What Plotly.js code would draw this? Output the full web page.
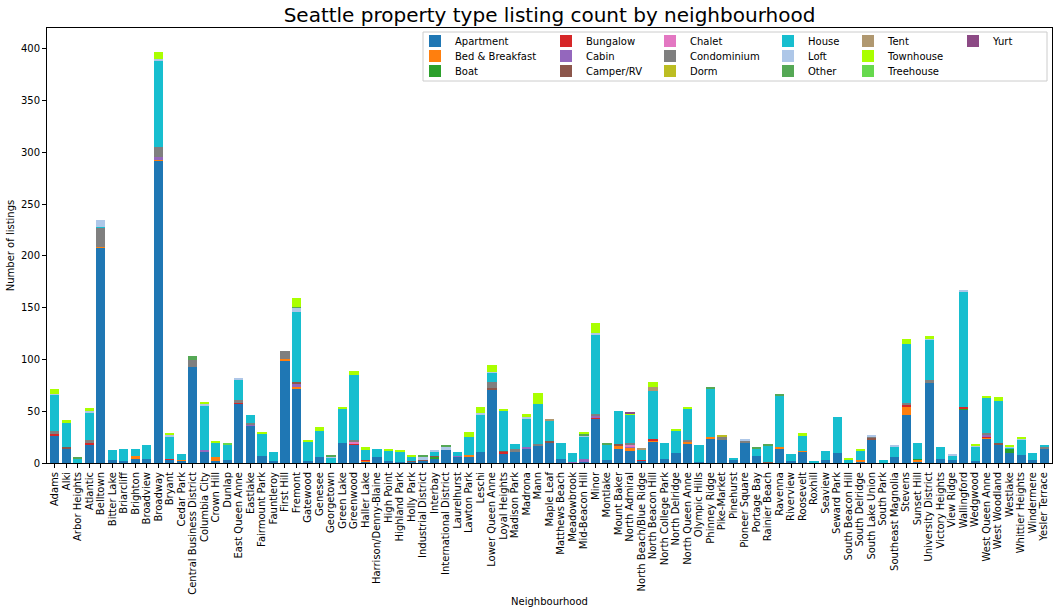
<!DOCTYPE html>
<html><head><meta charset="utf-8">
<script src="https://cdn.plot.ly/plotly-3.0.1.min.js"></script>
<style>html,body{margin:0;padding:0;background:#fff}#chart{width:1062px;height:614px}</style>
</head><body><div id="chart"></div>
<script>
const neighbourhoods = ["Adams","Alki","Arbor Heights","Atlantic","Belltown","Bitter Lake","Briarcliff","Brighton","Broadview","Broadway",
"Bryant","Cedar Park","Central Business District","Columbia City","Crown Hill","Dunlap","East Queen Anne","Eastlake","Fairmount Park","Fauntleroy",
"First Hill","Fremont","Gatewood","Genesee","Georgetown","Green Lake","Greenwood","Haller Lake","Harrison/Denny-Blaine","High Point",
"Highland Park","Holly Park","Industrial District","Interbay","International District","Laurelhurst","Lawton Park","Leschi","Lower Queen Anne","Loyal Heights",
"Madison Park","Madrona","Mann","Maple Leaf","Matthews Beach","Meadowbrook","Mid-Beacon Hill","Minor","Montlake","Mount Baker",
"North Admiral","North Beach/Blue Ridge","North Beacon Hill","North College Park","North Delridge","North Queen Anne","Olympic Hills","Phinney Ridge","Pike-Market","Pinehurst",
"Pioneer Square","Portage Bay","Rainier Beach","Ravenna","Riverview","Roosevelt","Roxhill","Seaview","Seward Park","South Beacon Hill",
"South Delridge","South Lake Union","South Park","Southeast Magnolia","Stevens","Sunset Hill","University District","Victory Heights","View Ridge","Wallingford",
"Wedgwood","West Queen Anne","West Woodland","Westlake","Whittier Heights","Windermere","Yesler Terrace"];

const propertyTypes = ["Apartment","Bed & Breakfast","Boat","Bungalow","Cabin","Camper/RV","Chalet","Condominium","Dorm","House","Loft","Other","Tent","Townhouse","Treehouse","Yurt"];

const apartment = [27,14,0,18,208,3,2,4,4,292, 3,2,93,11,2,3,57,36,7,2, 99,72,2,6,0,19,18,1,6,2, 1,1,2,4,13,6,6,11,71,9,
 11,14,16,20,4,0,1,43,3,14, 12,2,21,4,10,19,1,24,22,3, 19,7,0,14,2,11,0,3,10,0, 1,23,0,6,46,1,77,4,3,52, 2,24,18,10,8,3,14];
const bedAndBreakfast = [0,0,0,0,1,0,0,3,0,1, 0,1,0,0,4,0,0,0,0,0, 1,1,0,0,0,0,0,1,0,0, 0,0,0,0,0,0,2,0,0,0,
 0,0,0,0,0,0,0,0,0,3, 3,0,1,0,0,1,0,1,0,0, 0,0,0,1,0,1,0,0,0,0, 2,0,0,0,9,2,0,0,0,0, 0,1,0,0,0,0,0];
const boat = [0,0,0,0,0,0,0,0,0,0, 0,0,0,0,0,0,0,0,0,0, 0,0,0,0,0,0,0,0,0,0, 0,0,0,2,0,0,0,0,0,0,
 0,0,0,0,0,0,0,0,0,0, 0,0,0,0,0,0,0,0,0,0, 0,0,0,0,0,0,0,0,0,0, 0,0,0,0,0,1,0,0,0,1, 0,0,0,4,0,0,0];
const bungalow = [1,0,0,1,0,0,0,0,0,0, 1,0,0,0,0,0,1,0,0,0, 0,0,0,0,0,0,1,1,0,0, 0,0,0,0,0,0,0,0,0,2,
 0,0,0,0,0,0,0,1,0,0, 0,1,1,0,0,0,0,0,0,0, 0,0,0,0,0,0,0,0,0,0, 0,0,0,0,1,0,0,0,0,1, 0,1,0,0,0,0,0];
const cabin = [0,0,0,0,0,0,0,0,0,2, 0,0,0,2,0,0,0,1,0,0, 0,3,0,0,0,0,0,0,0,0, 0,0,0,0,0,1,0,0,0,0,
 0,1,0,0,0,1,3,1,0,0, 1,0,0,0,0,0,0,0,0,0, 0,0,0,0,0,0,0,0,0,0, 0,0,0,0,0,0,0,0,0,0, 0,1,0,0,0,0,0];
const camperRV = [0,1,0,0,0,0,0,0,0,0, 0,0,0,0,0,0,0,0,0,0, 0,2,0,0,0,0,0,0,0,0, 0,1,1,1,0,0,0,0,1,1,
 0,0,0,1,0,0,0,0,0,1, 0,0,0,0,0,0,0,0,0,0, 0,0,1,0,0,0,0,0,0,0, 0,1,0,0,0,0,0,0,0,0, 0,0,1,0,0,0,0];
const chalet = [0,0,0,0,0,0,0,0,0,0, 0,0,0,0,0,0,0,0,0,0, 0,0,0,0,0,0,1,0,0,0, 0,0,0,0,0,0,0,0,0,0,
 0,0,0,0,0,0,0,0,0,0, 1,0,0,0,0,0,0,0,0,0, 0,0,0,0,0,0,0,0,0,0, 0,0,0,0,0,0,0,0,0,0, 0,0,0,0,0,0,0];
const condominium = [3,0,0,3,18,0,0,0,0,10, 0,0,6,0,0,0,3,2,0,0, 8,0,0,0,0,0,2,0,0,0, 0,0,0,0,0,0,0,0,6,0,
 3,0,2,0,0,0,0,2,0,0, 2,0,0,0,0,2,0,0,3,0, 2,0,0,0,0,0,0,0,0,0, 0,2,0,0,2,0,3,0,0,0, 0,2,0,0,0,0,2];
const dorm = [0,0,0,0,0,0,0,0,0,0, 0,0,0,0,0,0,0,0,0,0, 0,0,0,0,0,0,0,0,0,0, 0,0,0,0,0,0,0,0,0,0,
 0,0,0,0,0,0,0,0,0,0, 0,0,0,0,0,0,0,0,2,0, 0,0,0,0,0,0,0,0,0,0, 0,0,0,0,0,0,0,0,0,0, 0,0,0,0,0,0,0];
const house = [35,24,4,26,1,10,12,7,13,83, 22,6,0,42,14,15,20,7,21,9, 0,68,19,25,5,34,63,10,8,10, 10,4,0,4,0,4,17,36,9,38,
 4,28,39,20,15,9,22,77,15,32, 28,10,47,15,21,30,16,47,0,1, 0,7,16,50,7,14,2,9,34,3, 9,0,3,10,57,15,39,11,4,111, 14,34,41,1,15,7,1];
const loft = [1,0,0,2,7,0,0,0,0,2, 1,0,0,2,0,0,1,0,0,0, 0,4,0,0,1,0,0,0,0,0, 0,0,3,1,2,0,0,1,1,0,
 0,1,0,0,0,0,1,2,0,0, 0,0,0,0,0,0,0,0,0,0, 2,0,0,0,0,0,0,0,0,0, 0,1,0,1,0,0,1,0,1,2, 1,0,0,1,1,0,0];
const other = [0,0,2,0,0,0,0,0,0,0, 0,0,4,0,0,0,0,0,0,0, 0,1,0,0,2,0,0,0,0,0, 0,0,1,0,2,0,0,0,0,0,
 0,0,0,0,0,0,1,0,1,0, 0,0,0,0,0,0,0,1,0,0, 0,1,1,2,0,0,0,0,0,0, 0,0,0,0,0,0,0,0,0,0, 0,0,0,0,0,0,0];
const tent = [0,0,0,0,0,0,0,0,0,0, 0,0,0,0,0,0,0,0,0,0, 0,0,0,0,0,0,0,0,0,0, 0,0,0,0,0,0,0,0,0,0,
 0,0,0,1,0,0,0,0,0,0, 0,1,3,0,0,0,0,0,0,0, 0,0,0,0,0,0,0,0,0,0, 0,0,0,0,0,0,0,0,0,0, 0,0,0,0,0,0,0];
const townhouse = [4,3,0,3,0,0,0,0,0,7, 2,0,0,1,1,0,0,0,1,0, 0,8,1,4,0,1,4,2,0,2, 1,1,0,0,0,0,5,6,7,2,
 0,3,11,0,0,0,1,9,0,0, 1,0,5,0,1,2,0,0,0,0, 0,0,0,0,0,3,0,0,0,1, 1,0,0,0,5,0,3,0,0,0, 1,2,4,1,1,0,0];
const treehouse = [0,0,0,0,0,0,0,0,0,0, 0,0,0,0,0,1,0,0,0,0, 0,0,0,0,0,0,0,0,0,0, 0,0,0,0,0,0,0,0,0,0,
 0,0,0,0,0,0,0,0,0,0, 0,0,0,0,0,0,0,0,0,0, 0,0,0,0,0,0,0,0,0,0, 0,0,0,0,0,0,0,0,0,0, 0,0,0,0,0,0,0];
const yurt = [0,0,0,0,0,0,0,0,0,0, 0,0,0,0,0,0,0,0,0,0, 0,0,0,0,0,0,0,0,0,0, 0,0,0,0,0,0,0,0,0,0,
 0,0,0,0,0,0,0,0,0,0, 1,0,0,0,0,0,0,0,0,0, 0,0,0,0,0,0,0,0,0,0, 0,0,0,0,0,0,0,0,0,0, 0,0,0,0,0,0,0];

const seriesValues = [apartment,bedAndBreakfast,boat,bungalow,cabin,camperRV,chalet,condominium,dorm,house,loft,other,tent,townhouse,treehouse,yurt];
const typeColors = ["#1f77b4","#ff7f0e","#2ca02c","#d62728","#9467bd","#8c564b","#e377c2","#7f7f7f","#bcbd22","#17becf","#aec7e8","#55a855","#b09870","#aaff00","#66d94d","#8c4a85"];

// layout geometry (pixels)
const W = 1062, H = 614, L = 47, R = 1052, T = 28, B = 463;
const pw = R - L, ph = B - T;
const colTextX = [455, 586, 690, 808, 888, 993];
const rowCenterY = [41, 56, 71];

const traces = propertyTypes.map((name, k) => ({
  type: 'bar', name: name, x: neighbourhoods, y: seriesValues[k],
  marker: {color: typeColors[k], line: {width: 0}},
  legend: 'legend' + (k + 2),
  showlegend: true,
  hoverinfo: 'x+y+name'
}));

const layout = {
  width: W, height: H,
  margin: {l: L, r: W - R, t: T, b: H - B, pad: 0},
  paper_bgcolor: '#fff', plot_bgcolor: '#fff',
  font: {family: 'DejaVu Sans', size: 10, color: '#000'},
  barmode: 'stack', bargap: 0.2,
  showlegend: true,
  title: {text: 'Seattle property type listing count by neighbourhood', font: {size: 20, color: '#000'},
          x: 0.5, xref: 'paper', y: 1 - 15 / H, yref: 'container', yanchor: 'middle'},
  xaxis: {type: 'category', range: [-0.68, 86.68], tickmode: 'linear', tick0: 0, dtick: 1,
          tickangle: -90, ticks: 'outside', ticklen: 4, tickcolor: '#000',
          showline: true, mirror: true, linecolor: '#000', linewidth: 1, showgrid: false, zeroline: false,
          tickfont: {size: 10, color: '#000'}, automargin: false,
          title: {text: 'Neighbourhood', font: {size: 10, color: '#000'}, standoff: 4}},
  yaxis: {range: [0, 420], tickvals: [0,50,100,150,200,250,300,350,400], ticks: 'outside', ticklen: 4, tickcolor: '#000',
          showline: true, mirror: true, linecolor: '#000', linewidth: 1, showgrid: false, zeroline: false,
          tickfont: {size: 10, color: '#000'}, automargin: false,
          title: {text: 'Number of listings', font: {size: 10, color: '#000'}, standoff: 4}},
  shapes: [{type: 'rect', xref: 'paper', yref: 'paper',
            x0: (423 - L) / pw, x1: (1047 - L) / pw, y0: (B - 81) / ph, y1: (B - 32) / ph,
            line: {color: '#cccccc', width: 1}, fillcolor: 'rgba(255,255,255,0.8)', layer: 'below'}],
  legend: {visible: false}
};

propertyTypes.forEach((name, k) => {
  const col = Math.floor(k / 3), row = k % 3;
  layout['legend' + (k + 2)] = {
    visible: true,
    x: (colTextX[col] - 40 - L) / pw, xanchor: 'left', xref: 'paper',
    y: (B - (rowCenterY[row] - 14.5)) / ph, yanchor: 'top', yref: 'paper',
    bgcolor: 'rgba(0,0,0,0)', borderwidth: 0,
    font: {size: 10, color: '#000', family: 'DejaVu Sans'}
  };
});

Plotly.newPlot('chart', traces, layout, {displayModeBar: false, responsive: false});
</script>
</body></html>
